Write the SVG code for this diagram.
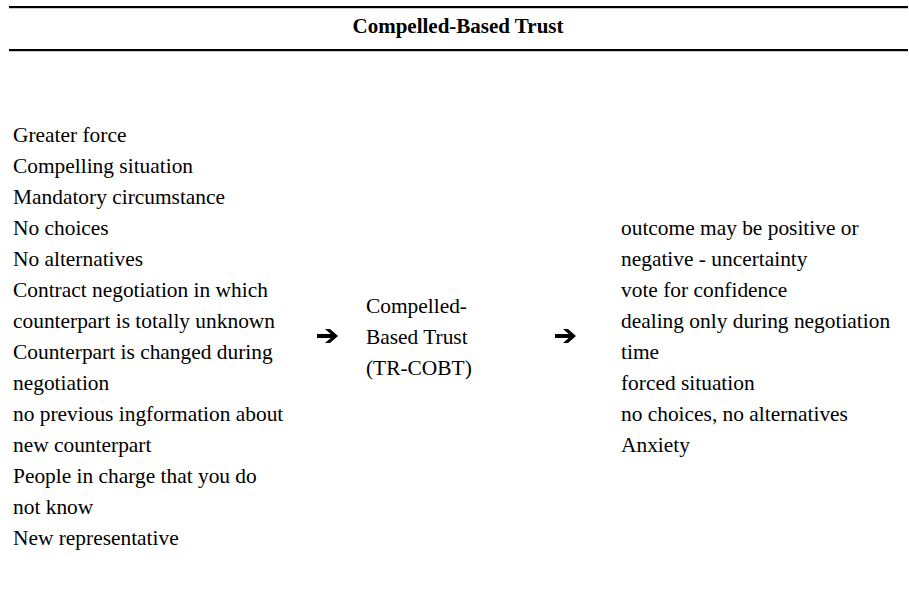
<svg xmlns="http://www.w3.org/2000/svg" width="909" height="613" viewBox="0 0 909 613">
<style>
.t{font-family:"Liberation Serif","Times New Roman",serif;font-size:21.4px;fill:#000}
.h{font-family:"Liberation Serif","Times New Roman",serif;font-size:21px;font-weight:bold;fill:#000}
.rule{fill:#000}
.arr{fill:#000}
</style>
<defs>
<path id="arrow" d="M0 5 H13.7 L8 0 H13 L21 7 L13 14 H8 L13.7 9 H0 Z"/>
</defs>
<rect width="909" height="613" fill="#fff"/>
<g id="header">
<rect class="rule" x="9" y="6" width="899" height="2.2"/>
<text class="h" x="458" y="33" text-anchor="middle">Compelled-Based Trust</text>
<rect class="rule" x="9" y="49" width="899" height="2.2"/>
</g>
<g id="antecedents">
<text class="t" x="13" y="142">Greater force</text>
<text class="t" x="13" y="173">Compelling situation</text>
<text class="t" x="13" y="204">Mandatory circumstance</text>
<text class="t" x="13" y="235">No choices</text>
<text class="t" x="13" y="266">No alternatives</text>
<text class="t" x="13" y="297">Contract negotiation in which</text>
<text class="t" x="13" y="328">counterpart is totally unknown</text>
<text class="t" x="13" y="359">Counterpart is changed during</text>
<text class="t" x="13" y="390">negotiation</text>
<text class="t" x="13" y="421">no previous ingformation about</text>
<text class="t" x="13" y="452">new counterpart</text>
<text class="t" x="13" y="483">People in charge that you do</text>
<text class="t" x="13" y="514">not know</text>
<text class="t" x="13" y="545">New representative</text>
</g>
<g id="trust-type">
<text class="t" x="366" y="313">Compelled-</text>
<text class="t" x="366" y="344">Based Trust</text>
<text class="t" x="366" y="375">(TR-COBT)</text>
</g>
<g id="outcomes">
<text class="t" x="621" y="235">outcome may be positive or</text>
<text class="t" x="621" y="266">negative - uncertainty</text>
<text class="t" x="621" y="297">vote for confidence</text>
<text class="t" x="621" y="328">dealing only during negotiation</text>
<text class="t" x="621" y="359">time</text>
<text class="t" x="621" y="390">forced situation</text>
<text class="t" x="621" y="421">no choices, no alternatives</text>
<text class="t" x="621" y="452">Anxiety</text>
</g>
<g id="connectors">
<use href="#arrow" class="arr" x="317" y="329"/>
<use href="#arrow" class="arr" x="555" y="329"/>
</g>
</svg>
